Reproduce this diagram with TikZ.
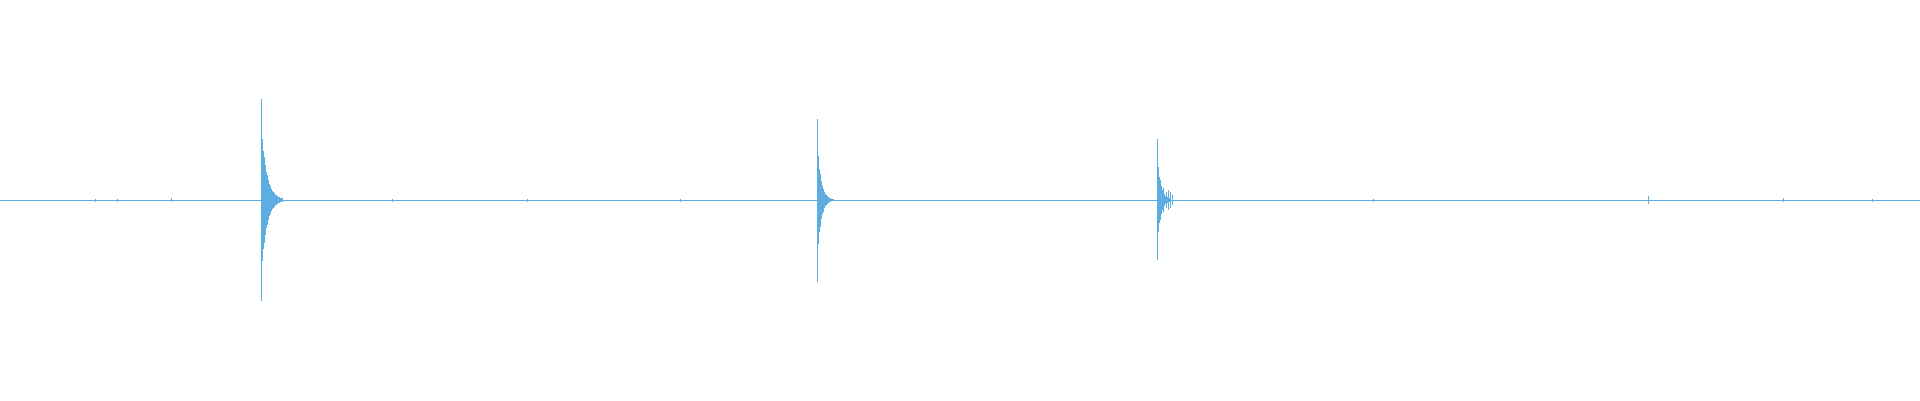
\documentclass[tikz,border=0pt]{standalone}
\usepackage{tikz}
\definecolor{wave}{RGB}{93,173,226}
\tikzset{trace/.style={wave, line width=0.8pt}}
\newcommand{\burst}[5]{% x, up, down, decay, tail
  \draw[trace] (#1,200-#2) -- (#1,200+#3);
  \foreach \i in {1,...,#5}
    \draw[trace] ({#1+\i*0.6},{200-0.75*#2*exp(-\i/#4)}) -- ({#1+\i*0.6},{200+0.75*#3*exp(-\i/#4)});
}
\begin{document}
\begin{tikzpicture}[x=1pt,y=-1pt]
  \useasboundingbox (0,0) rectangle (1920,400);
  % baseline
  \draw[trace] (0,200) -- (1920,200);
  % bursts
  \burst{261}{101}{101}{9}{35}
  \burst{817}{81}{82}{6}{28}
  \burst{1157}{61}{60}{6}{22}
  \draw[trace] (1163,200-12) -- (1163,200+12);
  \foreach \x/\a in {1164/6,1166/8,1168/10,1170/8,1172/5}
    \draw[trace] (\x,200-\a) -- (\x,200+\a);
  % small noise
  \foreach \x/\a in {95/1.5,117/1.5,171/2,392/1.5,527/1.5,680/1.5,1373/1.5,1648/4,1783/2,1872/1.5}
    \draw[trace] (\x,200-\a) -- (\x,200+\a);
\end{tikzpicture}
\end{document}
